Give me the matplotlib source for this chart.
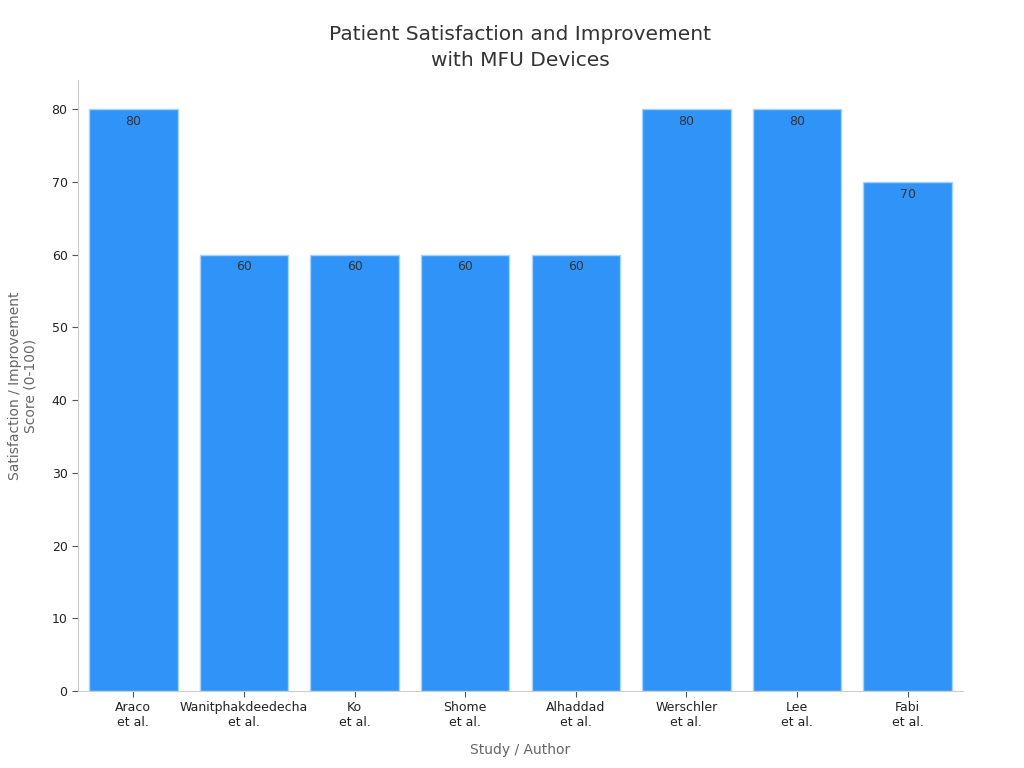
import matplotlib
matplotlib.use("Agg")
import matplotlib.pyplot as plt

categories = ["Araco\net al.", "Wanitphakdeedecha\net al.", "Ko\net al.", "Shome\net al.",
              "Alhaddad\net al.", "Werschler\net al.", "Lee\net al.", "Fabi\net al."]
scores = [80, 60, 60, 60, 60, 80, 80, 70]

plt.rcParams['font.family'] = ['DejaVu Sans']
fig = plt.figure(figsize=(10.24, 7.68), dpi=100)
ax = fig.add_axes([0.0762, 0.1003, 0.8642, 0.7955])

x = list(range(len(categories)))
bars = ax.bar(x, scores, width=0.8, color="#2F93F7", edgecolor="#A8D2FA", linewidth=1)
for xi, v in zip(x, scores):
    ax.text(xi, v - 0.8, f"{v}", ha="center", va="top", fontsize=9, color="#333333")

ax.set_xlim(-0.5, len(categories) - 0.5)
ax.set_ylim(0, 84)
ax.set_xticks(x)
ax.set_xticklabels(categories, fontsize=9, color="#222222")
ax.set_yticks(range(0, 81, 10))
ax.tick_params(axis="y", labelsize=9, colors="#222222", length=4, color="#555555")
ax.tick_params(axis="x", length=4, color="#555555")
for s in ["top", "right"]:
    ax.spines[s].set_visible(False)
for s in ["left", "bottom"]:
    ax.spines[s].set_color("#CCCCCC")

ax.set_xlabel("Study / Author", fontsize=10, color="#666666", labelpad=10)
ax.set_ylabel("Satisfaction / Improvement\nScore (0-100)", fontsize=10, color="#666666", labelpad=10)
ax.set_title("Patient Satisfaction and Improvement\nwith MFU Devices", fontsize=14.5, color="#333333",
             pad=10, linespacing=1.45)

fig.savefig("out.png", dpi=100)
